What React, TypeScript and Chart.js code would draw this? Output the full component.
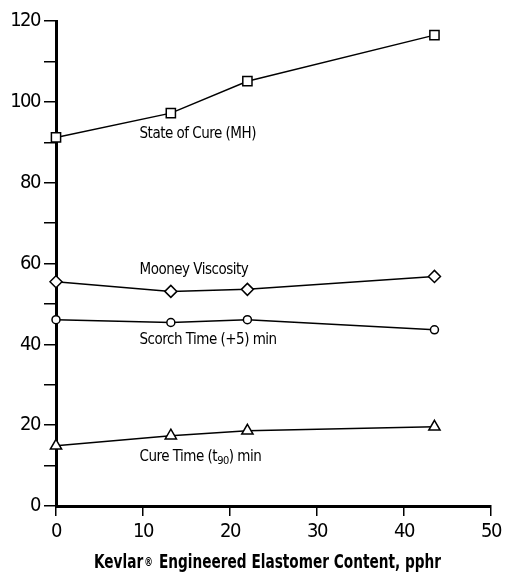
import React, { useEffect, useRef } from "react";
import { Chart, registerables } from "chart.js";

Chart.register(...registerables);

const xValues = [0, 13.2, 22, 43.5];
const stateOfCure = [91.2, 97.2, 105.1, 116.5];
const mooneyViscosity = [55.5, 53.1, 53.6, 56.8];
const scorchTime = [46.1, 45.4, 46.1, 43.6];
const cureTime = [14.9, 17.4, 18.6, 19.6];

const seriesLabels = ["State of Cure (MH)", "Mooney Viscosity", "Scorch Time (+5) min", "Cure Time (t", "90", ") min"];
const titleParts = ["Kevlar", "®", " Engineered Elastomer Content, pphr"];

const FONT = "'DejaVu Sans Condensed', 'Liberation Sans Narrow', sans-serif";

const spacingPlugin = {
  id: "spacing",
  beforeDraw(chart: any) {
    (chart.ctx as any).letterSpacing = "-1.5px";
  },
};

const labelPlugin = {
  id: "seriesLabels",
  afterDatasetsDraw(chart: any) {
    const { ctx, scales } = chart;
    const xs = scales.x;
    const ys = scales.y;
    ctx.save();
    ctx.fillStyle = "#000";
    ctx.textBaseline = "alphabetic";
    ctx.textAlign = "left";
    (ctx as any).letterSpacing = "-0.5px";
    ctx.font = `15px ${FONT}`;
    const lx = xs.getPixelForValue(9.6);
    ctx.fillText(seriesLabels[0], lx, ys.getPixelForValue(91.0));
    ctx.fillText(seriesLabels[1], lx, ys.getPixelForValue(57.5));
    ctx.fillText(seriesLabels[2], lx, ys.getPixelForValue(40.2));
    const cy = ys.getPixelForValue(11.2);
    ctx.fillText(seriesLabels[3], lx, cy);
    let w = ctx.measureText(seriesLabels[3]).width;
    ctx.font = `11px ${FONT}`;
    ctx.fillText(seriesLabels[4], lx + w, cy + 3);
    w += ctx.measureText(seriesLabels[4]).width;
    ctx.font = `15px ${FONT}`;
    ctx.fillText(seriesLabels[5], lx + w, cy);
    ctx.restore();

    // axis title, horizontally condensed
    ctx.save();
    ctx.fillStyle = "#000";
    ctx.textBaseline = "alphabetic";
    ctx.textAlign = "left";
    (ctx as any).letterSpacing = "0px";
    const sx = 0.8;
    const big = `bold 19px ${FONT}`;
    const small = `bold 12px ${FONT}`;
    ctx.font = big;
    const w0 = ctx.measureText(titleParts[0]).width;
    const w2 = ctx.measureText(titleParts[2]).width;
    ctx.font = small;
    const w1 = ctx.measureText(titleParts[1]).width + 3;
    const total = (w0 + w1 + w2) * sx;
    const cx = (xs.left + xs.right) / 2 - 6;
    const ty = chart.height - 6;
    ctx.translate(cx - total / 2, ty);
    ctx.scale(sx, 1);
    let tx = 0;
    ctx.font = big;
    ctx.fillText(titleParts[0], tx, 0);
    tx += w0 + 1.5;
    ctx.font = small;
    ctx.fillText(titleParts[1], tx, -2);
    tx += w1 - 1.5;
    ctx.font = big;
    ctx.fillText(titleParts[2], tx, 0);
    ctx.restore();
  },
};

function makeDataset(data: number[], style: string, radius: number) {
  return {
    data: xValues.map((x, i) => ({ x, y: data[i] })),
    borderColor: "#000",
    borderWidth: 1.5,
    pointStyle: style,
    pointRadius: radius,
    pointBackgroundColor: "#fff",
    pointBorderColor: "#000",
    pointBorderWidth: 1.5,
    fill: false,
    tension: 0,
    clip: false,
  };
}

export default function App() {
  const ref = useRef<HTMLCanvasElement>(null);
  useEffect(() => {
    document.body.style.margin = "0";
    const chart = new Chart(ref.current!, {
      type: "line",
      data: {
        datasets: [
          makeDataset(stateOfCure, "rect", 6.5),
          makeDataset(mooneyViscosity, "rectRot", 6),
          makeDataset(scorchTime, "circle", 4),
          makeDataset(cureTime, "triangle", 6.5),
        ] as any,
      },
      options: {
        animation: false,
        responsive: false,
        devicePixelRatio: 1,
        layout: { padding: { top: 21, right: 16, left: 0, bottom: 0 } },
        plugins: { legend: { display: false }, tooltip: { enabled: false } },
        scales: {
          x: {
            type: "linear",
            min: 0,
            max: 50,
            ticks: { stepSize: 10, color: "#000", font: { family: FONT, size: 20 }, padding: 4, maxRotation: 0 },
            grid: { drawOnChartArea: false, drawTicks: true, tickLength: 10, color: "#000", lineWidth: 1.5 },
            border: { display: true, width: 3, color: "#000" },
            afterFit: (s: any) => { s.height = 68; },
          },
          y: {
            type: "linear",
            min: 0,
            max: 120,
            ticks: {
              stepSize: 10,
              color: "#000",
              font: { family: FONT, size: 20 },
              padding: 4,
              callback: (v: any) => (Number(v) % 20 === 0 ? String(v) : ""),
            },
            grid: { drawOnChartArea: false, drawTicks: true, tickLength: 12, color: "#000", lineWidth: 1.5 },
            border: { display: true, width: 3, color: "#000" },
            afterFit: (s: any) => { s.width = 56; },
          },
        },
      },
      plugins: [spacingPlugin, labelPlugin],
    });
    return () => chart.destroy();
  }, []);
  return (
    <div style={{ width: 507, height: 574 }}>
      <canvas ref={ref} width={507} height={574} style={{ width: 507, height: 574, display: "block" }} />
    </div>
  );
}
